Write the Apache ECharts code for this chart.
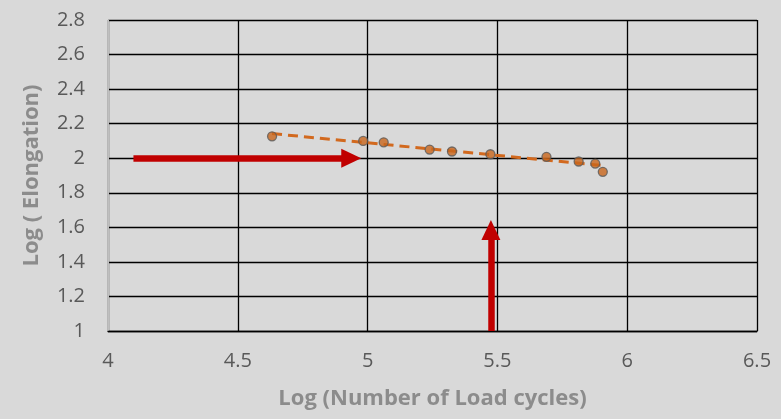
<!DOCTYPE html>
<html><head><meta charset="utf-8">
<script src="https://cdn.jsdelivr.net/npm/echarts@6/dist/echarts.min.js"></script>
<style>html,body{margin:0;padding:0;background:#D9D9D9}#c{width:781px;height:419px}</style>
</head><body><div id="c"></div>
<script>
const logCycles = [4.632, 4.983, 5.062, 5.239, 5.325, 5.473, 5.689, 5.813, 5.877, 5.906];
const logElong  = [2.127, 2.100, 2.092, 2.050, 2.039, 2.023, 2.008, 1.981, 1.969, 1.921];
const xTicks = [4, 4.5, 5, 5.5, 6, 6.5];
const yTicks = [1, 1.2, 1.4, 1.6, 1.8, 2, 2.2, 2.4, 2.6, 2.8];
// arrow annotations: [start, arrow-head centre]
const arrowH = [[4.098, 2.0], [4.937, 2.0]];
const arrowV = [[5.475, 1.0], [5.475, 1.584]];

// linear least-squares trendline (as in the spreadsheet chart)
const n = logCycles.length;
const mx = logCycles.reduce((a,b)=>a+b,0)/n, my = logElong.reduce((a,b)=>a+b,0)/n;
let sxy=0, sxx=0;
for (let i=0;i<n;i++){sxy+=(logCycles[i]-mx)*(logElong[i]-my);sxx+=(logCycles[i]-mx)**2;}
const slope=sxy/sxx, icpt=my-slope*mx;
const xMin=Math.min(...logCycles), xMax=Math.max(...logCycles);
const trend=[[xMin,icpt+slope*xMin],[xMax,icpt+slope*xMax]];

const font = '"Open Sans", "Noto Sans", sans-serif';
const chart = echarts.init(document.getElementById('c'));
chart.setOption({
  backgroundColor:'#D9D9D9',
  animation:false,
  grid:{left:108,right:24,top:20,bottom:88},
  xAxis:{type:'value',min:xTicks[0],max:xTicks[xTicks.length-1],interval:0.5,
    name:'Log (Number of Load cycles)',nameLocation:'middle',nameGap:57,
    nameTextStyle:{color:'#8C8C8C',fontSize:22,fontWeight:'bold',fontFamily:font},
    axisLine:{show:true,lineStyle:{color:'#000',width:1.3}},
    axisTick:{show:false},
    axisLabel:{color:'#595959',fontSize:20,fontFamily:font,margin:20},
    splitLine:{show:true,lineStyle:{color:'#000',width:1.3}}},
  yAxis:{type:'value',min:yTicks[0],max:yTicks[yTicks.length-1],interval:0.2,
    name:'Log ( Elongation)',nameLocation:'middle',nameGap:65,
    nameTextStyle:{color:'#8C8C8C',fontSize:22,fontWeight:'bold',fontFamily:font},
    axisLine:{show:true,lineStyle:{color:'#BFBFBF',width:1}},
    axisTick:{show:false},
    axisLabel:{color:'#595959',fontSize:20,fontFamily:font,margin:23,
      formatter:v=>String(+v.toFixed(1))},
    splitLine:{show:true,lineStyle:{color:'#000',width:1.3}}},
  series:[
    {type:'line',data:trend,symbol:'none',z:3,
      lineStyle:{color:'#D2691E',width:3,type:[10,6]}},
    {type:'scatter',data:logCycles.map((x,i)=>[x,logElong[i]]),symbolSize:9,z:4,
      itemStyle:{color:'#C8651B',borderColor:'#5A5A5A',borderWidth:1.3}},
    {type:'line',data:[],symbol:'none',z:5,
      markLine:{silent:true,symbol:['none','triangle'],symbolSize:[19,20],
        label:{show:false},lineStyle:{color:'#C00000',width:6.5,type:'solid'},
        emphasis:{disabled:true},
        data:[[{coord:arrowH[0]},{coord:arrowH[1]}],[{coord:arrowV[0]},{coord:arrowV[1]}]]}}
  ]
});
</script></body></html>
